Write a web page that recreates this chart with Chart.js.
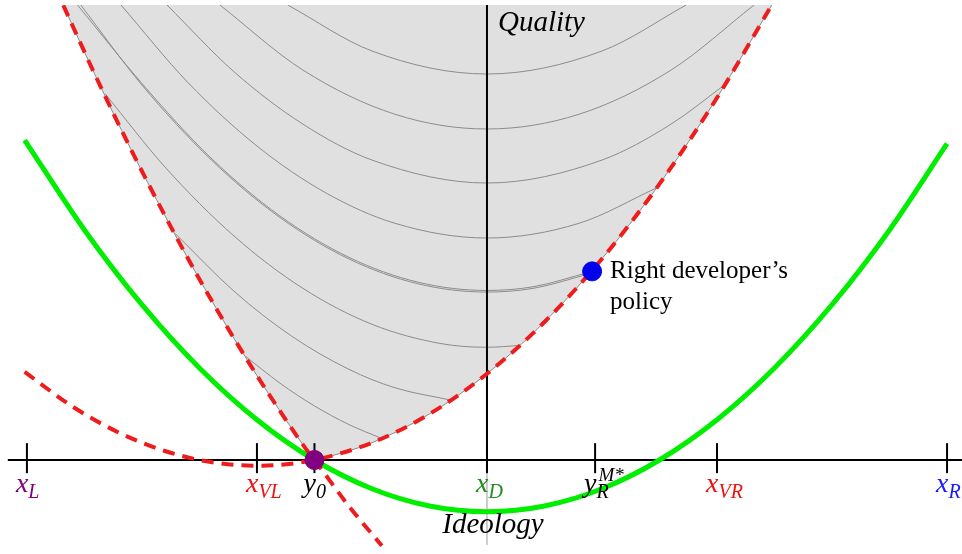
<!DOCTYPE html>
<html>
<head>
<meta charset="utf-8">
<script src="https://cdn.jsdelivr.net/npm/chart.js@4.4.1/dist/chart.umd.min.js"></script>
<style>
  html, body { margin: 0; padding: 0; background: #fff; }
  canvas { display: block; }
</style>
</head>
<body>
<canvas id="chart" width="962" height="554"></canvas>
<script>
// ideology (x) / quality (y) diagram

// tick positions on the ideology axis and their labels
const tickValues = [-2, -1, -0.75, 0, 0.47, 1, 2];
const tickLabels = [
  { main: "x", sub: "L", color: "#800080" },
  { main: "x", sub: "VL", color: "#ee1111" },
  { main: "y", sub: "0", color: "#000" },
  { main: "x", sub: "D", color: "#228b22" },
  { main: "y", sub: "R", sup: "M*", color: "#000" },
  { main: "x", sub: "VR", color: "#ee1111" },
  { main: "x", sub: "R", color: "#1a1aff" }
];

// green voter curve
const greenCurve = [
  [-2.01, 1.391], [-1.75, 1.0], [-1.5, 0.675], [-1.25, 0.4], [-1.0, 0.175],
  [-0.75, 0.0], [-0.5, -0.125], [-0.25, -0.2], [0, -0.225], [0.25, -0.2],
  [0.5, -0.125], [0.75, 0.0], [1.0, 0.175], [1.25, 0.4], [1.5, 0.675],
  [1.75, 1.0], [2.0, 1.375]
];

// red dashed curve through y0, flat near x_VL, rising to the right
const redA = [
  [-2.01, 0.383], [-1.8, 0.231], [-1.6, 0.119], [-1.4, 0.039], [-1.2, -0.009],
  [-1.0, -0.025], [-0.85, -0.016], [-0.75, 0], [-0.73, 0.004], [-0.5, 0.075],
  [-0.25, 0.2], [0, 0.375], [0.25, 0.6], [0.5, 0.875], [0.75, 1.2],
  [1.0, 1.575], [1.238, 1.978]
];

// red dashed steep curve from top-left through y0
const redB = [
  [-1.842, 1.977], [-1.7, 1.666], [-1.55, 1.355], [-1.4, 1.062], [-1.25, 0.786],
  [-1.1, 0.529], [-0.95, 0.289], [-0.77, 0.025], [-0.75, 0], [-0.6, -0.201],
  [-0.457, -0.373]
];

// grey iso-curves inside the shaded set
const isoCurves = [
  [[-1.05, 0.451], [-0.9, 0.334], [-0.75, 0.235], [-0.6, 0.154], [-0.456, 0.093]],
  [[-1.355, 0.984], [-1.1, 0.734], [-0.85, 0.539], [-0.6, 0.394], [-0.4, 0.314], [-0.156, 0.26]],
  [[-1.66, 1.592], [-1.4, 1.274], [-1.1, 0.974], [-0.8, 0.746], [-0.5, 0.59], [-0.2, 0.506], [0, 0.49], [0.144, 0.498]],
  [[-1.766, 1.978], [-1.5, 1.63], [-1.2, 1.306], [-0.9, 1.054], [-0.6, 0.874], [-0.3, 0.766], [0, 0.73], [0.2, 0.746], [0.444, 0.809]],
  [[-1.78, 1.978], [-1.5, 1.637], [-1.2, 1.313], [-0.9, 1.061], [-0.6, 0.881], [-0.3, 0.773], [0, 0.737], [0.2, 0.753], [0.447, 0.817]],
  [[-1.591, 1.978], [-1.3, 1.641], [-1.0, 1.365], [-0.7, 1.161], [-0.4, 1.029], [0, 0.965], [0.4, 1.029], [0.7375, 1.183]],
  [[-1.391, 1.978], [-1.1, 1.688], [-0.8, 1.46], [-0.5, 1.304], [0, 1.204], [0.5, 1.304], [0.8, 1.46], [1.036, 1.633]],
  [[-1.161, 1.978], [-0.8, 1.695], [-0.4, 1.503], [0, 1.439], [0.4, 1.503], [0.8, 1.695], [1.161, 1.978]],
  [[-0.866, 1.978], [-0.5, 1.778], [0, 1.678], [0.5, 1.778], [0.866, 1.978]]
];

// marked points
const y0Point = [-0.75, 0];
const rightPolicy = [0.457, 0.82];

const X_MIN = -2.117, X_MAX = 2.065, Y_MIN = -0.4087, Y_MAX = 1.978;

const toXY = arr => arr.map(p => ({ x: p[0], y: p[1] }));

// lower edge of the shaded set: steep curve up to y0, then the rising curve
const regionEdge = redB.filter(p => p[0] <= -0.75).concat(redA.filter(p => p[0] > -0.75));

const SERIF = '"Liberation Serif", "DejaVu Serif", serif';

const labelPlugin = {
  id: "labels",
  afterDatasetsDraw(chart) {
    const ctx = chart.ctx;
    const xs = chart.scales.x, ys = chart.scales.y;
    const axisY = ys.getPixelForValue(0);
    ctx.save();
    ctx.textBaseline = "alphabetic";
    ctx.textAlign = "left";

    tickLabels.forEach((lab, i) => {
      const px = xs.getPixelForValue(tickValues[i]);
      const base = axisY + 32;
      ctx.fillStyle = lab.color;
      ctx.font = "italic 28px " + SERIF;
      let x = px - 11;
      ctx.fillText(lab.main, x, base);
      x += ctx.measureText(lab.main).width;
      ctx.font = "italic 20px " + SERIF;
      ctx.fillText(lab.sub, x, base + 6);
      if (lab.sup) {
        ctx.font = "italic 19px " + SERIF;
        ctx.fillText(lab.sup, x + 2, base - 11);
      }
    });

    ctx.fillStyle = "#000";
    ctx.font = "italic 29px " + SERIF;
    const cx = xs.getPixelForValue(0);
    ctx.fillText("Quality", cx + 11, ys.getPixelForValue(Y_MAX) + 26);
    ctx.textAlign = "center";
    ctx.fillText("Ideology", cx + 6, axisY + 73);

    ctx.textAlign = "left";
    ctx.font = "25px " + SERIF;
    const bx = xs.getPixelForValue(rightPolicy[0]);
    const by = ys.getPixelForValue(rightPolicy[1]);
    ctx.fillText("Right developer\u2019s", bx + 18, by + 7);
    ctx.fillText("policy", bx + 18, by + 38);
    ctx.restore();
  }
};

const lineDefaults = {
  pointRadius: 0,
  cubicInterpolationMode: "monotone",
  fill: false
};

const datasets = [];

// shaded set
datasets.push(Object.assign({}, lineDefaults, {
  data: toXY(regionEdge),
  borderColor: "#8a8a8a",
  borderWidth: 1,
  backgroundColor: "#e0e0e0",
  fill: "end",
  order: 9
}));

isoCurves.forEach(c => {
  datasets.push(Object.assign({}, lineDefaults, {
    data: toXY(c),
    borderColor: "#8c8c8c",
    borderWidth: 1,
    order: 8
  }));
});

// axes
datasets.push(Object.assign({}, lineDefaults, {
  data: toXY([[-2.083, 0], [X_MAX, 0]]),
  borderColor: "#000",
  borderWidth: 2,
  order: 6
}));
datasets.push(Object.assign({}, lineDefaults, {
  data: toXY([[0, -0.055], [0, Y_MAX]]),
  borderColor: "#000",
  borderWidth: 2,
  order: 6
}));
datasets.push(Object.assign({}, lineDefaults, {
  data: toXY([[0, -0.37], [0, -0.055]]),
  borderColor: "#999",
  borderWidth: 1,
  order: 7
}));

// tick marks
datasets.push({
  data: tickValues.map(v => ({ x: v, y: 0.008 })),
  showLine: false,
  pointStyle: "line",
  rotation: 90,
  pointRadius: 15,
  pointBorderWidth: 2,
  pointBorderColor: "#000",
  order: 5
});

datasets.push(Object.assign({}, lineDefaults, {
  data: toXY(greenCurve),
  borderColor: "#00ee00",
  borderWidth: 5,
  order: 4
}));

[redA, redB].forEach(r => {
  datasets.push(Object.assign({}, lineDefaults, {
    data: toXY(r),
    borderColor: "#ee1c1c",
    borderWidth: 4,
    borderDash: [12, 8],
    order: 3
  }));
});

datasets.push({
  data: [{ x: y0Point[0], y: y0Point[1] }],
  showLine: false,
  pointRadius: 9.5,
  pointBackgroundColor: "#800080",
  pointBorderColor: "#800080",
  order: 1
});
datasets.push({
  data: [{ x: rightPolicy[0], y: rightPolicy[1] }],
  showLine: false,
  pointRadius: 9.5,
  pointBackgroundColor: "#0000ee",
  pointBorderColor: "#0000ee",
  order: 1
});

new Chart(document.getElementById("chart"), {
  type: "line",
  data: { datasets },
  options: {
    responsive: false,
    animation: false,
    devicePixelRatio: 1,
    layout: { autoPadding: false, padding: { top: 5, left: 0, right: 0, bottom: 0 } },
    plugins: {
      legend: { display: false },
      tooltip: { enabled: false }
    },
    scales: {
      x: { type: "linear", min: X_MIN, max: X_MAX, display: false },
      y: { type: "linear", min: Y_MIN, max: Y_MAX, display: false }
    }
  },
  plugins: [labelPlugin]
});
</script>
</body>
</html>
